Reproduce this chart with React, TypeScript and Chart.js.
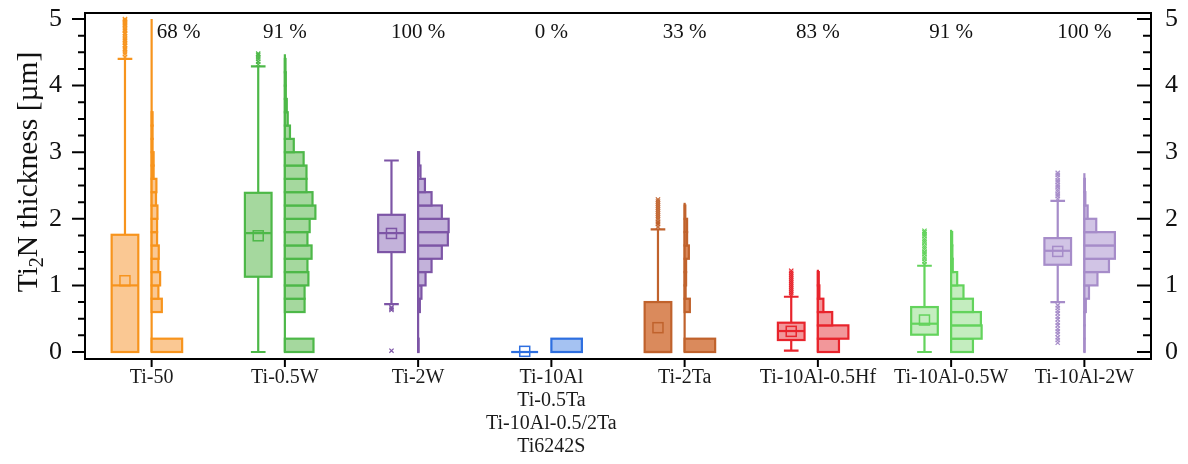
import { useEffect, useRef } from "react";
import { Chart, registerables } from "chart.js";

Chart.register(...registerables);

// Alloy groups along the x axis (the fourth group lists several alloys)
const alloyLabels: string[][] = [
  ["Ti-50"],
  ["Ti-0.5W"],
  ["Ti-2W"],
  ["Ti-10Al", "Ti-0.5Ta", "Ti-10Al-0.5/2Ta", "Ti6242S"],
  ["Ti-2Ta"],
  ["Ti-10Al-0.5Hf"],
  ["Ti-10Al-0.5W"],
  ["Ti-10Al-2W"],
];

// Share of measurements with a Ti2N layer, printed above each group
const coverage = [68, 91, 100, 0, 33, 83, 91, 100];

// Box statistics of the Ti2N thickness in µm
const boxQ1 = [0, 1.13, 1.5, 0, 0, 0.18, 0.26, 1.31];
const boxMedian = [1.0, 1.785, 1.785, 0, 0, 0.315, 0.425, 1.52];
const boxQ3 = [1.76, 2.39, 2.06, 0, 0.75, 0.44, 0.675, 1.71];
const boxMean = [1.07, 1.745, 1.78, 0.01, 0.365, 0.31, 0.48, 1.51];
const whiskerLow = [0, 0, 0.72, 0, 0, 0.02, 0, 0.75];
const whiskerHigh = [4.4, 4.29, 2.875, 0, 1.84, 0.83, 1.295, 2.27];

// Outlying measurements per alloy (µm)
const outliersTi50 = [4.43, 4.47, 4.5, 4.54, 4.56, 4.59, 4.61, 4.64, 4.67, 4.69, 4.71, 4.74, 4.77, 4.79, 4.82, 4.84, 4.86, 4.89, 4.91, 4.93, 4.95, 4.97, 4.99, 5.0];
const outliersTi05W = [4.32, 4.36, 4.4, 4.43, 4.46, 4.48];
const outliersTi2W = [0.02, 0.63, 0.65, 0.67];
const outliersTi10Al: number[] = [];
const outliersTi2Ta = [1.88, 1.92, 1.95, 1.99, 2.02, 2.05, 2.08, 2.11, 2.14, 2.17, 2.2, 2.23, 2.26, 2.29];
const outliersTi10Al05Hf = [0.86, 0.89, 0.92, 0.95, 0.98, 1.01, 1.04, 1.07, 1.1, 1.13, 1.16, 1.19, 1.22];
const outliersTi10Al05W = [1.32, 1.36, 1.4, 1.43, 1.47, 1.5, 1.54, 1.57, 1.6, 1.64, 1.67, 1.7, 1.74, 1.77, 1.8, 1.82];
const outliersTi10Al2W = [0.14, 0.18, 0.22, 0.27, 0.31, 0.35, 0.4, 0.44, 0.49, 0.53, 0.58, 0.62, 0.66, 0.7, 2.3, 2.34, 2.37, 2.41, 2.44, 2.48, 2.51, 2.55, 2.58, 2.62, 2.66, 2.69];

// Thickness histograms: relative frequency (%) in 0.2 µm bins starting at 0
const histTi50 = [32, 0, 0, 10.7, 7.1, 8.9, 7.1, 7.5, 5.7, 5.7, 6.1, 4.6, 5.0, 2.1, 2.1, 1.0, 1.0, 1.0];
const histTi05W = [9, 0, 0, 6.2, 6.2, 7.4, 7.1, 8.4, 7.1, 7.8, 9.6, 8.7, 6.8, 6.8, 5.9, 2.8, 1.6, 0.9, 0.6, 0.3, 0.3, 0.2];
const histTi2W = [0.3, 0, 0, 1.1, 2.1, 4.7, 8.5, 15, 18.8, 19.3, 15, 8.5, 4.3, 1.5, 0.6];
const histTi10Al = [100];
const histTi2Ta = [67, 0, 0, 11.5, 2.2, 3.2, 3.2, 9.3, 5.4, 5.4, 1.5];
const histTi10Al05Hf = [28, 40.5, 19, 7.3, 2, 1.2];
const histTi10Al05W = [17.3, 24.2, 23.6, 17.3, 9.8, 4.8, 1.3, 1.0, 0.8];
const histTi10Al2W = [0.2, 0.2, 0.2, 1.2, 3.8, 10.8, 20.3, 25.2, 25.2, 9.8, 2.7, 0.8, 0.4];

// Largest measured thickness per alloy (top of the histogram spine)
const maxThickness = [5.0, 4.47, 3.01, 0, 2.24, 1.235, 1.835, 2.685];

// Labelled thickness ticks
const yTickValues = [0, 1, 2, 3, 4, 5];

const outlierSets = [
  outliersTi50, outliersTi05W, outliersTi2W, outliersTi10Al,
  outliersTi2Ta, outliersTi10Al05Hf, outliersTi10Al05W, outliersTi10Al2W,
];
const histograms = [
  histTi50, histTi05W, histTi2W, histTi10Al,
  histTi2Ta, histTi10Al05Hf, histTi10Al05W, histTi10Al2W,
];

const palette = [
  { stroke: "#F7941D", fill: "#FAC893" },
  { stroke: "#4DB848", fill: "#A5D89E" },
  { stroke: "#7D55A6", fill: "#C3B2DA" },
  { stroke: "#2E6FE0", fill: "#A5C2F2" },
  { stroke: "#C0622C", fill: "#DA8A5C" },
  { stroke: "#E8242C", fill: "#F2979A" },
  { stroke: "#63D35C", fill: "#C4EDBF" },
  { stroke: "#A68CC9", fill: "#D1C4E5" },
];

const SERIF = "'Liberation Serif', 'Times New Roman', Times, serif";
const Y_MIN = -0.105;
const Y_MAX = 5.09;
const BIN_WIDTH = 0.2;
const BOX_OFFSET = -0.2; // box sits left of the category tick, histogram right of it
const BOX_HALF = 0.1;
const CAP_HALF = 0.055;
const HIST_SPAN = 0.229; // x extent of the tallest histogram bin
const MEAN_SIZE = 10;
const LINE_W = 2.2;

const boxHistogramPlugin = {
  id: "boxHistogram",
  beforeDatasetsDraw(chart: any) {
    const { ctx } = chart;
    const x = chart.scales.x;
    const y = chart.scales.y;
    ctx.save();
    ctx.lineJoin = "miter";
    alloyLabels.forEach((_, i) => {
      const c = palette[i];
      ctx.strokeStyle = c.stroke;
      ctx.fillStyle = c.fill;
      ctx.lineWidth = LINE_W;

      // histogram spine and bins
      const base = x.getPixelForValue(i);
      const bins = histograms[i];
      const peak = Math.max(...bins);
      if (maxThickness[i] > 0) {
        ctx.beginPath();
        ctx.moveTo(base, y.getPixelForValue(0));
        ctx.lineTo(base, y.getPixelForValue(maxThickness[i]));
        ctx.stroke();
      }
      bins.forEach((f, k) => {
        if (f <= 0) return;
        const right = x.getPixelForValue(i + (f / peak) * HIST_SPAN);
        const top = y.getPixelForValue((k + 1) * BIN_WIDTH);
        const bottom = y.getPixelForValue(k * BIN_WIDTH);
        ctx.fillRect(base, top, right - base, bottom - top);
        ctx.strokeRect(base, top, right - base, bottom - top);
      });

      // box plot
      const bc = x.getPixelForValue(i + BOX_OFFSET);
      const bl = x.getPixelForValue(i + BOX_OFFSET - BOX_HALF);
      const br = x.getPixelForValue(i + BOX_OFFSET + BOX_HALF);
      const cl = x.getPixelForValue(i + BOX_OFFSET - CAP_HALF);
      const cr = x.getPixelForValue(i + BOX_OFFSET + CAP_HALF);
      const yq1 = y.getPixelForValue(boxQ1[i]);
      const yq3 = y.getPixelForValue(boxQ3[i]);
      const yHi = y.getPixelForValue(whiskerHigh[i]);
      const yLo = y.getPixelForValue(whiskerLow[i]);

      if (whiskerHigh[i] > boxQ3[i]) {
        ctx.beginPath();
        ctx.moveTo(bc, yq3);
        ctx.lineTo(bc, yHi);
        ctx.moveTo(cl, yHi);
        ctx.lineTo(cr, yHi);
        ctx.stroke();
      }
      if (whiskerLow[i] < boxQ1[i]) {
        ctx.beginPath();
        ctx.moveTo(bc, yq1);
        ctx.lineTo(bc, yLo);
        ctx.moveTo(cl, yLo);
        ctx.lineTo(cr, yLo);
        ctx.stroke();
      }
      ctx.fillRect(bl, yq3, br - bl, yq1 - yq3);
      ctx.strokeRect(bl, yq3, br - bl, yq1 - yq3);
      const ym = y.getPixelForValue(boxMedian[i]);
      ctx.beginPath();
      ctx.moveTo(bl, ym);
      ctx.lineTo(br, ym);
      ctx.stroke();

      // mean marker
      const yMean = y.getPixelForValue(boxMean[i]);
      ctx.lineWidth = 1.5;
      ctx.strokeRect(bc - MEAN_SIZE / 2, yMean - MEAN_SIZE / 2, MEAN_SIZE, MEAN_SIZE);
    });
    ctx.restore();
  },
};

const framePlugin = {
  id: "frameAndLabels",
  afterDraw(chart: any) {
    const { ctx, chartArea } = chart;
    const { left, right, top, bottom } = chartArea;
    const x = chart.scales.x;
    const y = chart.scales.y;
    ctx.save();
    ctx.strokeStyle = "#000";
    ctx.lineWidth = 2;
    ctx.strokeRect(left, top, right - left, bottom - top);

    // thickness ticks: majors every 1 µm, minors every 0.25 µm
    ctx.beginPath();
    for (let q = 0; q <= 20; q++) {
      const v = q / 4;
      const py = y.getPixelForValue(v);
      const major = q % 4 === 0;
      ctx.moveTo(left - (major ? 13 : 7), py);
      ctx.lineTo(left, py);
      ctx.moveTo(right - (major ? 14 : 8), py);
      ctx.lineTo(right, py);
    }
    alloyLabels.forEach((_, i) => {
      const px = x.getPixelForValue(i);
      ctx.moveTo(px, bottom);
      ctx.lineTo(px, bottom + 8);
    });
    ctx.stroke();

    // axis title with subscript
    const big = `29.5px ${SERIF}`;
    const small = `20px ${SERIF}`;
    ctx.font = big;
    const w1 = ctx.measureText("Ti").width;
    const w3 = ctx.measureText("N thickness [µm]").width;
    ctx.font = small;
    const w2 = ctx.measureText("2").width;
    const total = w1 + w2 + w3;
    ctx.translate(37, 172);
    ctx.rotate(-Math.PI / 2);
    ctx.fillStyle = "#111";
    ctx.textAlign = "left";
    ctx.textBaseline = "alphabetic";
    let u = -total / 2;
    ctx.font = big;
    ctx.fillText("Ti", u, 0);
    u += w1;
    ctx.font = small;
    ctx.fillText("2", u, 6);
    u += w2;
    ctx.font = big;
    ctx.fillText("N thickness [µm]", u, 0);
    ctx.setTransform(1, 0, 0, 1, 0, 0);
    ctx.restore();

    // coverage percentages along the top
    ctx.save();
    ctx.font = `21px ${SERIF}`;
    ctx.fillStyle = "#111";
    ctx.textBaseline = "alphabetic";
    coverage.forEach((p, i) => {
      const px = x.getPixelForValue(i);
      const text = `${p} %`;
      if (maxThickness[i] >= 4.9) {
        // spine reaches the top: put the label beside it
        ctx.textAlign = "left";
        ctx.fillText(text, px + 5, top + 25);
      } else {
        ctx.textAlign = "center";
        ctx.fillText(text, px, top + 25);
      }
    });
    ctx.restore();
  },
};

export default function App() {
  const canvasRef = useRef<HTMLCanvasElement | null>(null);

  useEffect(() => {
    const canvas = canvasRef.current;
    if (!canvas) return;
    const chart = new Chart(canvas, {
      type: "scatter",
      data: {
        datasets: outlierSets.map((vals, i) => ({
          label: alloyLabels[i].join(", "),
          data: vals.map((v) => ({ x: i + BOX_OFFSET, y: v })),
          pointStyle: "crossRot",
          pointRadius: 3,
          pointHoverRadius: 3,
          borderWidth: 1.2,
          borderColor: palette[i].stroke,
          backgroundColor: palette[i].stroke,
        })),
      },
      options: {
        animation: false,
        responsive: true,
        maintainAspectRatio: false,
        layout: { padding: { top: 13, left: 0, right: 0, bottom: 0 } },
        plugins: {
          legend: { display: false },
          tooltip: { enabled: false },
        },
        scales: {
          x: {
            type: "linear",
            position: "bottom",
            min: -0.5,
            max: 7.5,
            grid: { display: false, drawTicks: false },
            border: { display: false },
            afterBuildTicks: (s: any) => {
              s.ticks = alloyLabels.map((_, i) => ({ value: i }));
            },
            afterFit: (s: any) => {
              s.height = 105;
              s.paddingLeft = 0;
              s.paddingRight = 0;
            },
            ticks: {
              autoSkip: false,
              maxRotation: 0,
              minRotation: 0,
              padding: 7.5,
              color: "#1a1a1a",
              font: { family: SERIF, size: 20, lineHeight: 1.15 },
              callback: (_v: any, idx: number) => alloyLabels[idx] ?? "",
            },
          },
          y: {
            type: "linear",
            position: "left",
            min: Y_MIN,
            max: Y_MAX,
            grid: { display: false, drawTicks: false },
            border: { display: false },
            afterBuildTicks: (s: any) => {
              s.ticks = yTickValues.map((v) => ({ value: v }));
            },
            afterFit: (s: any) => {
              s.width = 85;
              s.paddingTop = 0;
              s.paddingBottom = 0;
            },
            ticks: {
              padding: 23,
              color: "#111",
              font: { family: SERIF, size: 26 },
              callback: (v: any) => String(v),
            },
          },
          y2: {
            type: "linear",
            position: "right",
            min: Y_MIN,
            max: Y_MAX,
            grid: { display: false, drawTicks: false },
            border: { display: false },
            afterBuildTicks: (s: any) => {
              s.ticks = yTickValues.map((v) => ({ value: v }));
            },
            afterFit: (s: any) => {
              s.width = 37;
              s.paddingTop = 0;
              s.paddingBottom = 0;
            },
            ticks: {
              padding: 14,
              color: "#111",
              font: { family: SERIF, size: 26 },
              callback: (v: any) => String(v),
            },
          },
        },
      },
      plugins: [boxHistogramPlugin, framePlugin],
    } as any);
    return () => chart.destroy();
  }, []);

  return (
    <div style={{ position: "absolute", left: 0, top: 0, width: 1188, height: 464 }}>
      <canvas ref={canvasRef} />
    </div>
  );
}
